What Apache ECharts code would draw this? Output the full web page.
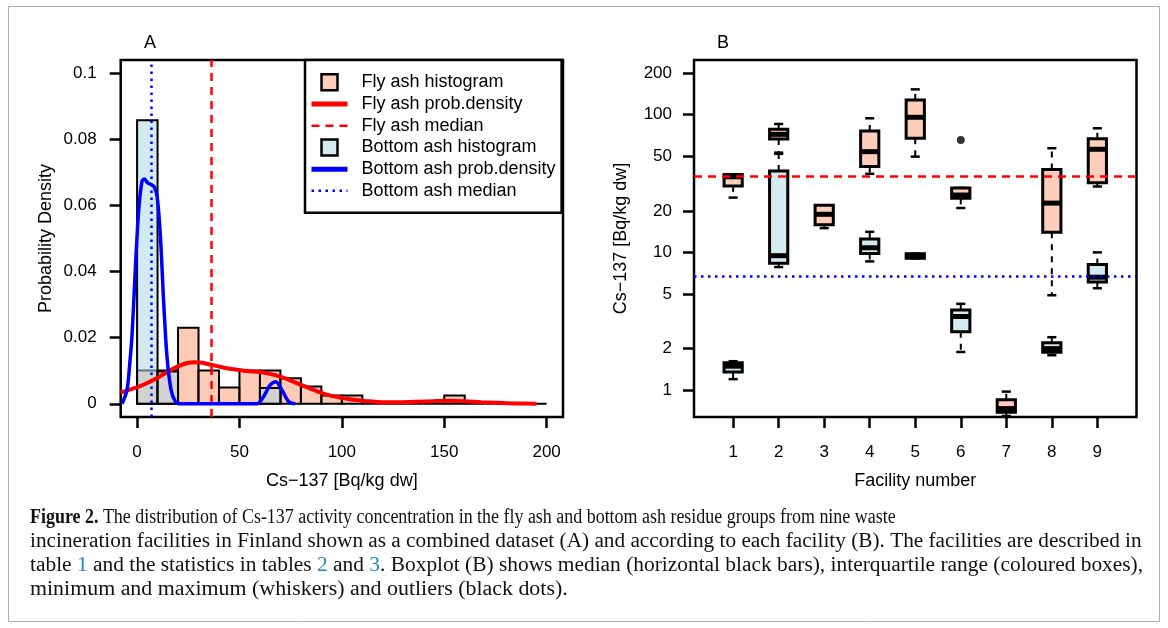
<!DOCTYPE html>
<html><head><meta charset="utf-8">
<script src="https://cdn.jsdelivr.net/npm/echarts@6/dist/echarts.min.js"></script>
<style>html,body{margin:0;padding:0;background:#fff}#c{width:1168px;height:628px}</style>
</head><body><div id="c"></div>
<script>
// ---------------- DATA ----------------
// Panel A: histogram breaks (bin starts, width 10) and densities
const histBinStarts = [0,10,20,30,40,50,60,70,80,90,100,110,120,130,140,150,160,170,180,190];
const histBinWidth = 10;
const flyHistDensity = [0.0101,0.0101,0.0230,0.0101,0.0049,0.0101,0.0101,0.0077,0.0052,0.0025,0.0025,0,0,0,0,0.0025,0,0,0,0];
const bottomHistStarts = [0,10,20,30,40,50,60];
const bottomHistDensity = [0.0858,0.0098,0,0,0,0,0.0048];
// kernel density curves
const flyDensX = [-8,-4,0,5,10,15,20,25,28,32,36,42,48,54,60,66,71,76,80,85,90,95,101,106,112,120,128,136,145,152,160,168,176,185,195];
const flyDensY = [0.0034,0.0042,0.0050,0.0063,0.0079,0.0097,0.0113,0.0124,0.0126,0.0124,0.0118,0.0110,0.0104,0.0099,0.0096,0.0089,0.0080,0.0068,0.0057,0.0045,0.0033,0.0024,0.0017,0.0012,0.0008,0.0005,0.0005,0.0006,0.0008,0.0009,0.0008,0.0005,0.0003,0.0001,0.0000];
const bottomDensX = [-7.3,-4.9,-3.6,-2.4,-0.8,0.8,2.4,3.6,5.2,6.8,8.4,9.8,11.4,13,14.6,16.6,18.7,21,30,40,50,58.5,61.8,65,67.8,70.7,74,77.2];
const bottomDensY = [0,0.0042,0.0120,0.0214,0.0415,0.0587,0.0673,0.0680,0.0668,0.0663,0.0656,0.0627,0.0506,0.0305,0.0143,0.0042,0.0007,0,0,0,0,0,0.0022,0.0057,0.0067,0.0042,0.0007,0];
const flyMedian = 36;
const bottomMedian = 6.7;
const xTicksA = [0,50,100,150,200];
const yTicksA = [0,0.02,0.04,0.06,0.08,0.1];

// Panel B: boxplot statistics per facility [min, q1, median, q3, max]
const facilities = [1,2,3,4,5,6,7,8,9];
const flyBoxStats = [
  [25.0,30.4,35.4,36.8,36.8],
  [53.0,66.7,72.0,78.4,85.6],
  [15.0,15.9,18.9,22.0,22.0],
  [37.2,42.0,53.9,76.2,94.2],
  [49.6,67.5,95.8,128,152.8],
  [21.0,24.7,26.1,29.4,29.4],
  [0.648,0.690,0.733,0.850,0.974],
  [4.88,14.0,22.8,40.0,57.1],
  [30.1,32.0,56.1,66.8,79.7]
];
const flyOutliers = [[6,65.6]];
const bottomFacilities = [1,2,4,5,6,8,9];
const bottomBoxStats = [
  [1.20,1.35,1.49,1.58,1.62],
  [7.82,8.35,9.46,39.0,52.0],
  [8.6,9.80,10.8,12.5,14.1],
  [9.06,9.06,9.4,9.79,9.79],
  [1.89,2.65,3.42,3.82,4.23],
  [1.79,1.88,2.0,2.21,2.42],
  [5.49,6.10,6.6,8.16,10.0]
];
const yTicksB = [1,2,5,10,20,50,100,200];

// ---------------- STYLE ----------------
const FONT = 'Liberation Sans';
const FLY_FILL = 'rgba(255,160,122,0.55)';
const BOTTOM_FILL = 'rgba(173,216,230,0.55)';
const FLY_BOX = '#FFCDB9';
const BOTTOM_BOX = '#D3EAF0';
const BOX_WIDTH = 0.4;

const chart = echarts.init(document.getElementById('c'), null, {renderer:'canvas'});

function histRender(fill){
  return function(params, api){
    const p0 = api.coord([api.value(0), 0]);
    const p1 = api.coord([api.value(1), api.value(2)]);
    return {type:'rect', shape:{x:p0[0], y:p1[1], width:p1[0]-p0[0], height:p0[1]-p1[1]},
      style:{fill:fill, stroke:'#000', lineWidth:2}};
  };
}
function boxRender(fill){
  return function(params, api){
    const x = api.value(0);
    const c = api.coord([x, api.value(3)]);
    const half = api.coord([x + BOX_WIDTH/2, api.value(3)])[0] - c[0];
    const yMin = api.coord([x, api.value(1)])[1];
    const yQ1 = api.coord([x, api.value(2)])[1];
    const yMed = c[1];
    const yQ3 = api.coord([x, api.value(4)])[1];
    const yMax = api.coord([x, api.value(5)])[1];
    const cx = c[0];
    const wh = {stroke:'#000', lineWidth:2, lineDash:[6,6]};
    const st = {stroke:'#000', lineWidth:2.5};
    return {type:'group', children:[
      {type:'line', shape:{x1:cx, y1:yQ3, x2:cx, y2:yMax}, style:wh},
      {type:'line', shape:{x1:cx, y1:yQ1, x2:cx, y2:yMin}, style:wh},
      {type:'line', shape:{x1:cx-half/2, y1:yMax, x2:cx+half/2, y2:yMax}, style:st},
      {type:'line', shape:{x1:cx-half/2, y1:yMin, x2:cx+half/2, y2:yMin}, style:st},
      {type:'rect', shape:{x:cx-half, y:yQ3, width:2*half, height:yQ1-yQ3}, style:{fill:fill, stroke:'#000', lineWidth:3}},
      {type:'line', shape:{x1:cx-half, y1:yMed, x2:cx+half, y2:yMed}, style:{stroke:'#000', lineWidth:5}}
    ]};
  };
}

const tick = (vals)=>({show:true, inside:false, length:11, customValues:vals, lineStyle:{color:'#000', width:2.5}});
const lab = (vals, extra)=>Object.assign({show:true, customValues:vals, margin:24, fontSize:17, color:'#000', fontFamily:FONT}, extra||{});
const nameStyle = {fontSize:18, color:'#000', fontFamily:FONT};
const noLine = {show:false, onZero:false};

const captionLines = [
  '{b|Figure 2.} The distribution of Cs-137 activity concentration in the fly ash and bottom ash residue groups from nine waste',
  'incineration facilities in Finland shown as a combined dataset (A) and according to each facility (B). The facilities are described in',
  'table {l|1} and the statistics in tables {l|2} and {l|3}. Boxplot (B) shows median (horizontal black bars), interquartile range (coloured boxes),',
  'minimum and maximum (whiskers) and outliers (black dots).'
];
const captionY = [518, 542, 566, 590];
const captionScaleX = [0.897, 1.063, 1.070, 1.095];
const CAP = 20;

const lineLegendHide = {opacity:0};

const option = {
  animation:false,
  backgroundColor:'#fff',
  textStyle:{fontFamily:FONT},
  grid:[
    {left:120.7, top:60, width:442.3, height:357, show:true, borderColor:'#000', borderWidth:2.5, backgroundColor:'transparent'},
    {left:694, top:60, width:442.5, height:357, show:true, borderColor:'#000', borderWidth:2.5, backgroundColor:'transparent'}
  ],
  xAxis:[
    {gridIndex:0, type:'value', min:-8, max:208, axisLine:noLine, splitLine:{show:false},
     axisTick:tick(xTicksA), axisLabel:lab(xTicksA, {margin:27}),
     name:'Cs\u2212137 [Bq/kg dw]', nameLocation:'middle', nameGap:55, nameTextStyle:nameStyle},
    {gridIndex:1, type:'value', min:0.14, max:9.86, axisLine:noLine, splitLine:{show:false},
     axisTick:tick(facilities), axisLabel:lab(facilities, {margin:27}),
     name:'Facility number', nameLocation:'middle', nameGap:55, nameTextStyle:nameStyle}
  ],
  yAxis:[
    {gridIndex:0, type:'value', min:-0.004, max:0.104, axisLine:noLine, splitLine:{show:false},
     axisTick:tick(yTicksA), axisLabel:lab(yTicksA),
     name:'Probability Density', nameLocation:'middle', nameGap:66, nameRotate:90, nameTextStyle:nameStyle},
    {gridIndex:1, type:'log', logBase:10, min:0.637, max:249.7, axisLine:noLine, splitLine:{show:false},
     axisTick:tick(yTicksB), axisLabel:lab(yTicksB, {margin:22}),
     name:'Cs\u2212137 [Bq/kg dw]', nameLocation:'middle', nameGap:64, nameRotate:90, nameTextStyle:nameStyle}
  ],
  legend:{
    left:305, top:60, orient:'vertical', selectedMode:false,
    padding:[11.5,6,11,4], itemWidth:36, itemHeight:16, itemGap:0,
    borderColor:'#000', borderWidth:2.5, backgroundColor:'#fff',
    textStyle:{fontSize:18, color:'#000', fontFamily:FONT, lineHeight:21.7, padding:[0,0,0,9]},
    data:[
      {name:'Fly ash histogram', icon:'path://M0 0H10V10H0Z', itemStyle:{color:FLY_BOX, borderColor:'#000', borderWidth:2.5}},
      {name:'Fly ash prob.density', itemStyle:lineLegendHide, lineStyle:{color:'#ff0000', width:5}},
      {name:'Fly ash median', itemStyle:lineLegendHide, lineStyle:{color:'#ff0000', width:2.5, type:[8,6]}},
      {name:'Bottom ash histogram', icon:'path://M0 0H10V10H0Z', itemStyle:{color:BOTTOM_BOX, borderColor:'#000', borderWidth:2.5}},
      {name:'Bottom ash prob.density', itemStyle:lineLegendHide, lineStyle:{color:'#0000ff', width:5}},
      {name:'Bottom ash median', itemStyle:lineLegendHide, lineStyle:{color:'#0000ff', width:2.5, type:[2.5,4.5]}}
    ]
  },
  graphic:[
    {type:'rect', shape:{x:8.5, y:6.5, width:1151, height:615}, style:{fill:'none', stroke:'#b0b0b0', lineWidth:1}, silent:true},
    {type:'text', x:150, y:43, style:{text:'A', font:'18px '+FONT, fill:'#000', align:'center', verticalAlign:'middle'}},
    {type:'text', x:723, y:43, style:{text:'B', font:'18px '+FONT, fill:'#000', align:'center', verticalAlign:'middle'}}
  ].concat(captionLines.map((t,i)=>({type:'text', x:30, y:captionY[i], scaleX:captionScaleX[i], style:{
      text:t, font:CAP+'px "Liberation Serif"', fill:'#111', verticalAlign:'middle',
      rich:{b:{fontWeight:'bold', fontSize:CAP, fontFamily:'Liberation Serif', fill:'#111'},
            l:{fill:'#1f86c8', fontSize:CAP, fontFamily:'Liberation Serif'}}}}))),
  series:[
    {name:'Fly ash histogram', type:'custom', xAxisIndex:0, yAxisIndex:0, z:2,
     itemStyle:{color:FLY_BOX},
     renderItem:histRender(FLY_FILL), encode:{x:[0,1], y:2},
     data:histBinStarts.map((s,i)=>[s, s+histBinWidth, flyHistDensity[i]])},
    {name:'Bottom ash histogram', type:'custom', xAxisIndex:0, yAxisIndex:0, z:3,
     itemStyle:{color:BOTTOM_BOX},
     renderItem:histRender(BOTTOM_FILL), encode:{x:[0,1], y:2},
     data:bottomHistStarts.map((s,i)=>[s, s+histBinWidth, bottomHistDensity[i]])},
    {name:'Fly ash prob.density', type:'line', xAxisIndex:0, yAxisIndex:0, z:5, symbol:'none', smooth:0.3,
     lineStyle:{color:'#ff0000', width:4}, itemStyle:{color:'#ff0000'},
     data:flyDensX.map((x,i)=>[x, flyDensY[i]])},
    {name:'Fly ash median', type:'line', xAxisIndex:0, yAxisIndex:0, z:4, symbol:'none',
     lineStyle:{color:'#ff0000', width:2.5, type:[8,6]}, itemStyle:{color:'#ff0000'}, data:[],
     markLine:{silent:true, symbol:'none', label:{show:false}, lineStyle:{color:'#ff0000', width:2.5, type:[8,6]}, data:[{xAxis:flyMedian}]}},
    {name:'Bottom ash prob.density', type:'line', xAxisIndex:0, yAxisIndex:0, z:5, symbol:'none', smooth:0.3,
     lineStyle:{color:'#0000ff', width:3.5}, itemStyle:{color:'#0000ff'},
     data:bottomDensX.map((x,i)=>[x, bottomDensY[i]])},
    {name:'Bottom ash median', type:'line', xAxisIndex:0, yAxisIndex:0, z:4, symbol:'none',
     lineStyle:{color:'#0000ff', width:2.5, type:[2.5,4.5]}, itemStyle:{color:'#0000ff'}, data:[],
     markLine:{silent:true, symbol:'none', label:{show:false}, lineStyle:{color:'#0000ff', width:2.5, type:[2.5,4.5]}, data:[{xAxis:bottomMedian}]}},
    // Panel B
    {name:'Fly ash box', type:'custom', xAxisIndex:1, yAxisIndex:1, z:2,
     renderItem:boxRender(FLY_BOX), encode:{x:0, y:[1,2,3,4,5]},
     data:facilities.map((f,i)=>[f].concat(flyBoxStats[i]))},
    {name:'Bottom ash box', type:'custom', xAxisIndex:1, yAxisIndex:1, z:3,
     renderItem:boxRender(BOTTOM_BOX), encode:{x:0, y:[1,2,3,4,5]},
     data:bottomFacilities.map((f,i)=>[f].concat(bottomBoxStats[i]))},
    {name:'Outliers', type:'scatter', xAxisIndex:1, yAxisIndex:1, z:4, symbol:'circle', symbolSize:8,
     itemStyle:{color:'#000'}, data:flyOutliers},
    {name:'Medians B', type:'line', xAxisIndex:1, yAxisIndex:1, z:6, symbol:'none', data:[],
     markLine:{silent:true, symbol:'none', label:{show:false}, data:[
       {yAxis:flyMedian, lineStyle:{color:'#ff0000', width:2.5, type:[8,6]}},
       {yAxis:bottomMedian, lineStyle:{color:'#0000ff', width:2.5, type:[2.5,4.5]}}
     ]}}
  ]
};
chart.setOption(option);
</script></body></html>
